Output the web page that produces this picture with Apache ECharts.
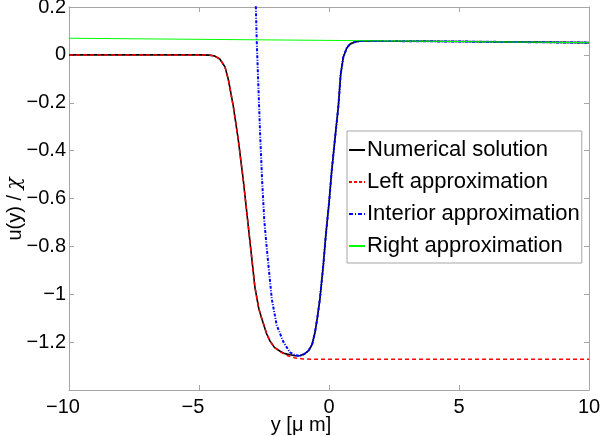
<!DOCTYPE html>
<html>
<head>
<meta charset="utf-8">
<script src="https://cdn.jsdelivr.net/npm/echarts@6/dist/echarts.min.js"></script>
<style>html,body{margin:0;padding:0;background:#fff}#c{width:600px;height:436px}</style>
</head>
<body>
<div id="c"></div>
<script>
// ---- data ----
const seriesNames = ['Numerical solution', 'Left approximation', 'Interior approximation', 'Right approximation'];
const xTicks = [-10, -5, 0, 5, 10];
const yTicks = [-1.2, -1, -0.8, -0.6, -0.4, -0.2, 0, 0.2];

const numX = [-10, -5, -4.6, -4.4, -4.2, -4.0, -3.87, -3.68, -3.49, -3.30, -3.13, -3.0, -2.85, -2.7, -2.59, -2.4, -2.27, -2.1, -1.88, -1.7, -1.5, -1.3, -1.12, -0.95, -0.79, -0.65, -0.54, -0.45, -0.35, -0.22, -0.12, 0, 0.10, 0.23, 0.36, 0.45, 0.55, 0.68, 0.81, 1.0, 1.2, 1.6, 2, 5, 10];
const numY = [0, 0, -0.001, -0.005, -0.017, -0.05, -0.104, -0.215, -0.354, -0.52, -0.69, -0.82, -0.97, -1.06, -1.10, -1.165, -1.195, -1.222, -1.238, -1.248, -1.253, -1.257, -1.257, -1.25, -1.236, -1.21, -1.16, -1.10, -1.02, -0.88, -0.75, -0.62, -0.49, -0.35, -0.215, -0.08, -0.01, 0.028, 0.045, 0.054, 0.058, 0.0585, 0.058, 0.0557, 0.051];

const leftX = [-10, -5, -4.6, -4.4, -4.2, -4.0, -3.87, -3.68, -3.49, -3.30, -3.13, -3.0, -2.85, -2.7, -2.59, -2.4, -2.27, -2.1, -1.88, -1.7, -1.5, -1.3, -1.0, -0.5, 0, 10];
const leftY = [0, 0, -0.001, -0.005, -0.017, -0.05, -0.104, -0.215, -0.354, -0.52, -0.69, -0.82, -0.97, -1.06, -1.10, -1.165, -1.195, -1.222, -1.240, -1.252, -1.260, -1.266, -1.27, -1.272, -1.272, -1.272];

const intX = [-2.86, -2.81, -2.78, -2.72, -2.65, -2.57, -2.49, -2.40, -2.31, -2.20, -2.01, -1.75, -1.5, -1.3, -1.12, -0.95, -0.79, -0.65, -0.54, -0.45, -0.35, -0.22, -0.12, 0, 0.10, 0.23, 0.36, 0.45, 0.55, 0.68, 0.81, 1.0, 1.2, 1.6, 2, 5, 10];
const intY = [0.32, 0.19, 0.06, -0.12, -0.33, -0.53, -0.69, -0.80, -0.90, -1.02, -1.13, -1.20, -1.243, -1.255, -1.257, -1.25, -1.236, -1.21, -1.16, -1.10, -1.02, -0.88, -0.75, -0.62, -0.49, -0.35, -0.215, -0.08, -0.01, 0.028, 0.045, 0.054, 0.058, 0.0585, 0.058, 0.0557, 0.051];

const rightX = [-10, -5, 0, 5, 10];
const rightY = [0.0695, 0.065, 0.0605, 0.0557, 0.051];

// ---- chart ----
const pair = (xs, ys) => xs.map((x, i) => [x, ys[i]]);
const FONT = 'Liberation Sans, Arial, Helvetica, sans-serif';
const GRAY = '#a6a6a6';
const minus = v => String(v).replace('-', '\u2212');

const baseAxis = {
  axisLine: { show: true, onZero: false, lineStyle: { color: GRAY, width: 1 } },
  axisTick: { show: true, inside: true, length: 5, lineStyle: { color: GRAY } },
  splitLine: { show: false },
};

const ICON_SOLID = 'path://M0,0H16V2H0Z';
const ICON_DASH = 'path://M0,0H3V2H0Z M5,0H8V2H5Z M10,0H13V2H10Z M15,0H16V2H15Z';
const ICON_DASHDOT = 'path://M0,0H4V2H0Z M6,0H7V2H6Z M9,0H13V2H9Z M15,0H16V2H15Z';

const chart = echarts.init(document.getElementById('c'), null, { renderer: 'canvas' });
chart.setOption({
  animation: false,
  backgroundColor: '#fff',
  grid: { left: 69, right: 11, top: 7, bottom: 46, containLabel: false, outerBoundsMode: 'none' },
  xAxis: [
    Object.assign({}, baseAxis, {
      type: 'value', min: xTicks[0], max: xTicks[xTicks.length - 1], interval: 5, position: 'bottom',
      axisLabel: { color: '#000', fontSize: 20, fontFamily: FONT, margin: 7,
        formatter: v => (v < 0 ? '{n|' + minus(v) + '}' : String(v)),
        rich: { n: { fontSize: 20, fontFamily: FONT, color: '#000', padding: [0, 12, 0, 0] } } },
      name: 'y [\u03bc m]', nameLocation: 'middle', nameGap: 25, nameMoveOverlap: false,
      nameTextStyle: { color: '#000', fontSize: 20, fontFamily: FONT, padding: [0, 56, 0, 0] }
    }),
    Object.assign({}, baseAxis, {
      type: 'value', min: -10, max: 10, interval: 5, position: 'top', axisLabel: { show: false }
    })
  ],
  yAxis: [
    Object.assign({}, baseAxis, {
      type: 'value', min: -1.4, max: yTicks[yTicks.length - 1], interval: 0.2, position: 'left',
      axisLabel: { color: '#000', fontSize: 20, fontFamily: FONT, margin: 3,
        formatter: v => (Math.abs(v + 1.4) < 1e-6 ? '' : minus(+v.toFixed(1))) },
      name: 'u(y) / {c|\u03c7}', nameLocation: 'middle', nameGap: 44, nameMoveOverlap: false,
      nameTextStyle: { color: '#000', fontSize: 20, fontFamily: FONT, padding: [0, 21, 0, 0],
        rich: { c: { fontSize: 20, fontFamily: 'DejaVu Serif', fontStyle: 'italic', color: '#000' } } }
    }),
    Object.assign({}, baseAxis, {
      type: 'value', min: -1.4, max: 0.2, interval: 0.2, position: 'right', axisLabel: { show: false }
    })
  ],
  legend: {
    show: true,
    orient: 'vertical', left: 347, top: 131,
    data: [
      { name: seriesNames[0], icon: ICON_SOLID },
      { name: seriesNames[1], icon: ICON_DASH },
      { name: seriesNames[2], icon: ICON_DASHDOT },
      { name: seriesNames[3], icon: ICON_SOLID }
    ],
    symbolKeepAspect: false,
    backgroundColor: '#fff', borderColor: GRAY, borderWidth: 1,
    padding: [8, 2, 6, 2], itemGap: 10, itemWidth: 16, itemHeight: 2,
    textStyle: { color: '#000', fontSize: 22, fontFamily: FONT, lineHeight: 22, padding: [0, 0, 0, -3] },
  },
  series: [
    { name: seriesNames[0], type: 'line', data: pair(numX, numY), showSymbol: false, symbol: 'none',
      lineStyle: { color: '#000', width: 1.6 }, itemStyle: { color: '#000' }, z: 2 },
    { name: seriesNames[1], type: 'line', data: pair(leftX, leftY), showSymbol: false, symbol: 'none',
      lineStyle: { color: '#ff0000', width: 1.5, type: [4, 3] }, itemStyle: { color: '#ff0000' }, z: 3 },
    { name: seriesNames[2], type: 'line', data: pair(intX, intY), showSymbol: false, symbol: 'none',
      lineStyle: { color: '#0000ff', width: 2, type: [3, 1.5, 1, 1.5] }, itemStyle: { color: '#0000ff' }, z: 4 },
    { name: seriesNames[3], type: 'line', data: pair(rightX, rightY), showSymbol: false, symbol: 'none',
      lineStyle: { color: '#00ff00', width: 1 }, itemStyle: { color: '#00ff00' }, z: 5 }
  ]
});
</script>
</body>
</html>
